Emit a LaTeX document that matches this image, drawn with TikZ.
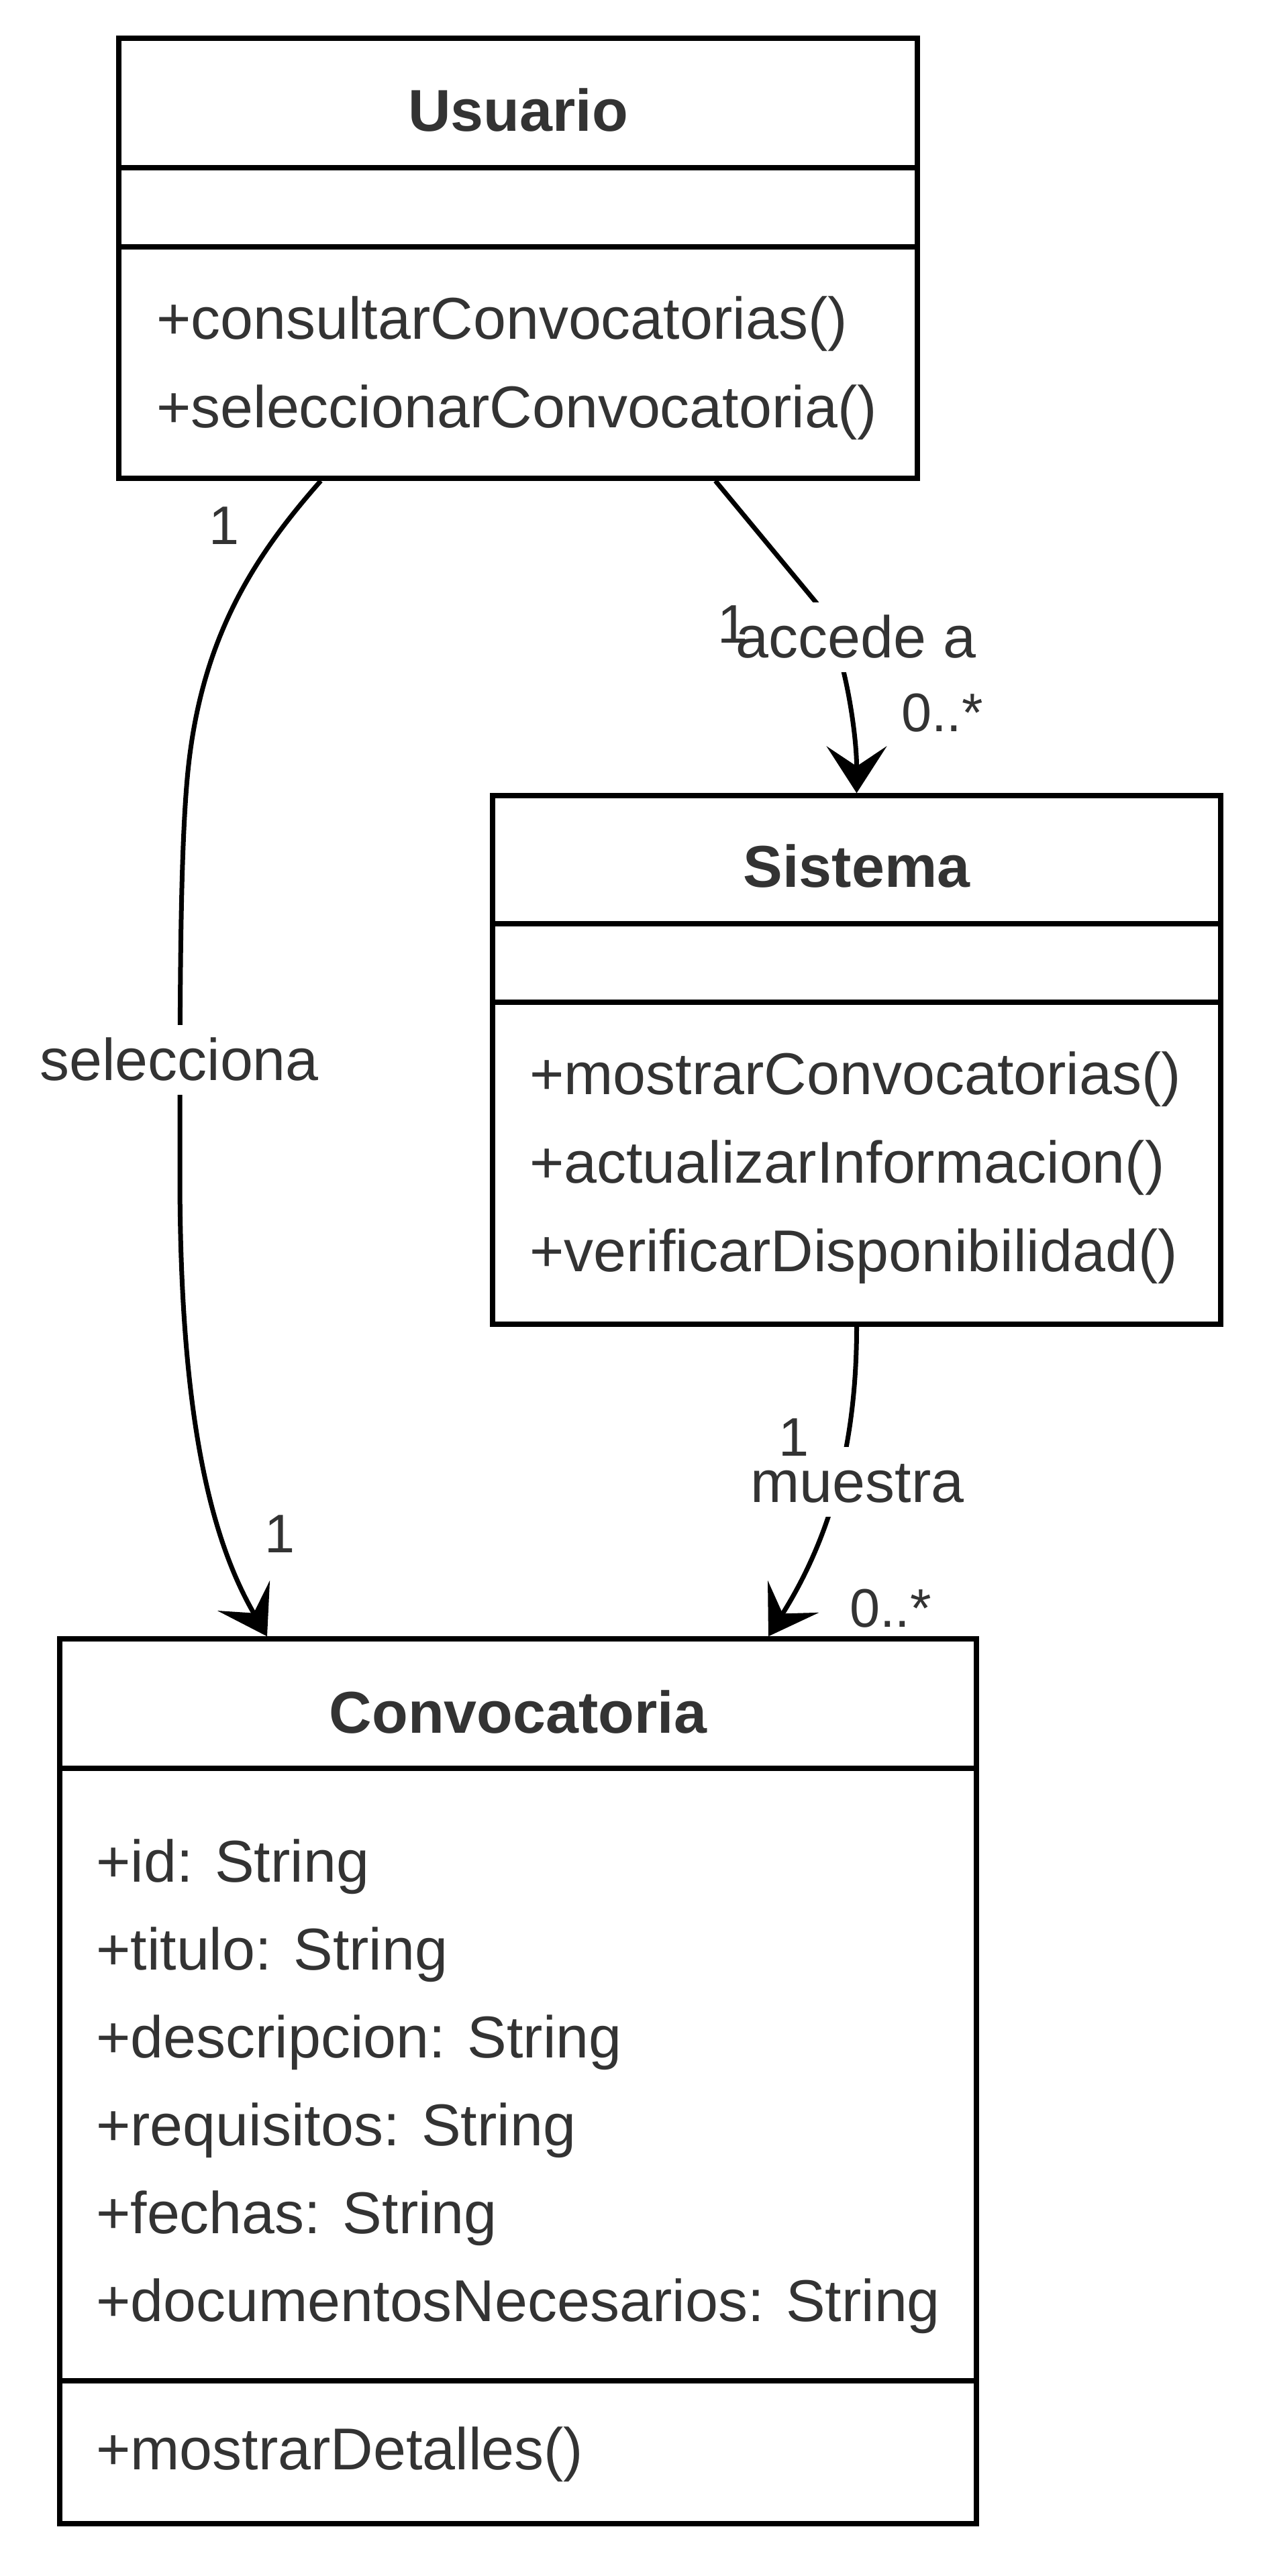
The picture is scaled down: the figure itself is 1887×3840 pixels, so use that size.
\documentclass[tikz,border=0pt]{standalone}
\usepackage{fontspec}
\setmainfont{Liberation Sans}
\usetikzlibrary{arrows.meta}
\definecolor{txt}{HTML}{333333}
\tikzset{
  classbox/.style={draw=black, line width=7.5pt, fill=white, rectangle, inner sep=0pt},
  divider/.style={draw=black, line width=7.5pt},
  member/.style={anchor=base west, inner sep=0pt, text=txt, font=\fontsize{88pt}{100pt}\selectfont},
  classtitle/.style={anchor=base, inner sep=0pt, text=txt, font=\fontsize{88pt}{100pt}\selectfont\bfseries},
  assoclabel/.style={anchor=base, inner sep=0pt, fill=white, text=txt, text height=82pt, text depth=22pt, font=\fontsize{88pt}{100pt}\selectfont},
  mult/.style={anchor=base, inner sep=0pt, text=txt, font=\fontsize{81pt}{95pt}\selectfont},
  conn/.style={draw=black, line width=7pt, -{Stealth[length=70pt, width=90pt, inset=30pt, line width=3pt]}},
}
\begin{document}
\begin{tikzpicture}[x=1pt, y=-1pt]
\path[use as bounding box, fill=white] (0,0) rectangle (1887,3840);

% Usuario
\node[classbox, minimum width=1190pt, minimum height=656pt] (usuario) at (772,385) {};
\draw[divider] (177,250) -- (1367,250);
\draw[divider] (177,368) -- (1367,368);
\node[classtitle] (usuarioT) at (772,196) {Usuario};
\node[member] (usuarioM1) at (233,505) {+consultarConvocatorias()};
\node[member] (usuarioM2) at (233,637) {+seleccionarConvocatoria()};

% Sistema
\node[classbox, minimum width=1085pt, minimum height=788pt] (sistema) at (1276.5,1580) {};
\draw[divider] (734,1377) -- (1819,1377);
\draw[divider] (734,1494) -- (1819,1494);
\node[classtitle] (sistemaT) at (1276.5,1322) {Sistema};
\node[member] (sistemaM1) at (789,1631) {+mostrarConvocatorias()};
\node[member] (sistemaM2) at (789,1763) {+actualizarInformacion()};
\node[member] (sistemaM3) at (789,1895) {+verificarDisponibilidad()};

% Convocatoria
\node[classbox, minimum width=1366pt, minimum height=1319pt] (conv) at (772,3102.5) {};
\draw[divider] (89,2636) -- (1455,2636);
\draw[divider] (89,3549) -- (1455,3549);
\node[classtitle] (convT) at (772,2583) {Convocatoria};
\node[member] (convA1) at (143,2805) {+id: String};
\node[member] (convA2) at (143,2936) {+titulo: String};
\node[member] (convA3) at (143,3067) {+descripcion: String};
\node[member] (convA4) at (143,3198) {+requisitos: String};
\node[member] (convA5) at (143,3329) {+fechas: String};
\node[member] (convA6) at (143,3460) {+documentosNecesarios: String};
\node[member] (convM1) at (143,3681) {+mostrarDetalles()};

% connectors
\draw[conn] ([xshift=-294pt]usuario.south) .. controls (379,829) and (300,950) .. (280,1150)
  .. controls (268,1270) and (268,1500) .. (268,1750)
  .. controls (268,2100) and (310.7,2287.7) .. ([xshift=-374pt]conv.north);
\draw[conn] ([xshift=294pt]usuario.south) -- (1216,898)
  .. controls (1254,944) and (1276.5,1086) .. (sistema.north);
\draw[conn] (sistema.south) .. controls (1276.5,2128) and (1248.6,2274) .. ([xshift=373pt]conv.north);

% association labels
\node[assoclabel] (lsel) at (267,1610) {selecciona};
\node[assoclabel] (lacc) at (1275.5,980) {accede a};
\node[assoclabel] (lmue) at (1277.5,2239) {muestra};

% multiplicities
\node[mult] (m1) at (334,811) {1};
\node[mult] (m2) at (417,2314) {1};
\node[mult] (m3) at (1092,958) {1};
\node[mult] (m4) at (1404,1090) {0..*};
\node[mult] (m5) at (1183,2170) {1};
\node[mult] (m6) at (1327,2425) {0..*};
\end{tikzpicture}
\end{document}
